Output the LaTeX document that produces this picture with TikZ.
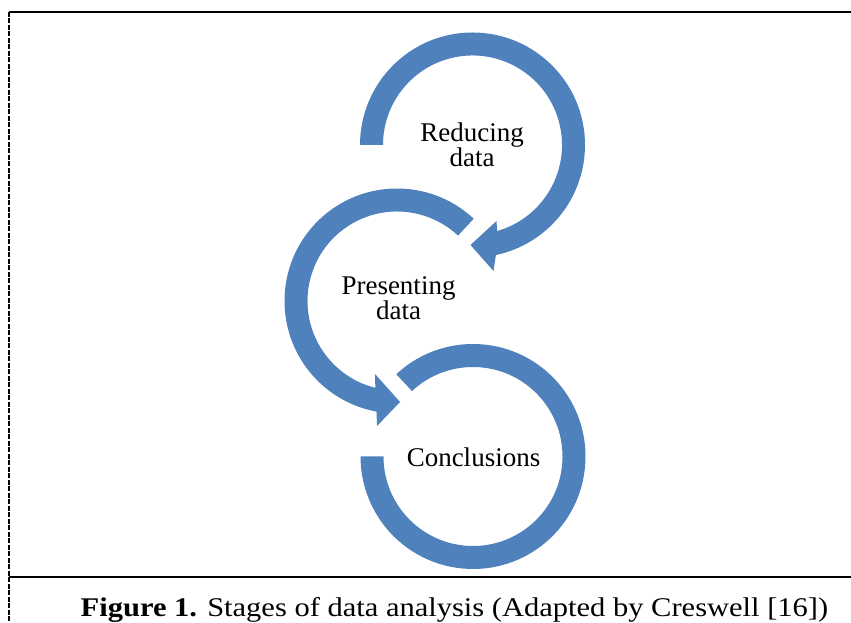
\documentclass[tikz,border=0pt]{standalone}
\usepackage{fontspec}
\setmainfont{Liberation Serif}
\newfontfamily\capfont[FakeStretch=1.13]{Liberation Serif}
\definecolor{sablue}{HTML}{4F81BD}
\begin{document}
\begin{tikzpicture}[x=1pt,y=1pt,
  ring/.style={fill=sablue},
  lbl/.style={font=\fontsize{27}{25}\selectfont, align=center, inner sep=0pt, anchor=base},
  rule/.style={line width=2.5pt},
  dashrule/.style={line width=1.3pt, dash pattern=on 5pt off 1.5pt}]
\useasboundingbox (0,0) rectangle (851,623);
\coordinate (cA) at (472.5,478);
\coordinate (cB) at (397,322);
\coordinate (cC) at (473,166.5);
% top ring with arrow
\fill[ring,shift={(cA)}] (180:112.5) arc[start angle=180,end angle=-78,radius=112.5]
  -- (21,-126) -- (-2,-100) -- (24,-76) -- (-74:89.5)
  arc[start angle=-74,end angle=180,radius=89.5] -- cycle;
% middle ring with arrow
\fill[ring,shift={(cB)}] (47:112.5) arc[start angle=47,end angle=259.5,radius=112.5]
  -- (-20,-125) -- (3,-101) -- (-22,-73) -- (256:89.5)
  arc[start angle=256,end angle=47,radius=89.5] -- cycle;
% bottom ring
\fill[ring,shift={(cC)}] (133:112.5) arc[start angle=133,end angle=-180,radius=112.5]
  -- (-180:89.5) arc[start angle=-180,end angle=133,radius=89.5] -- cycle;
% labels
\node[lbl] (red) at (472,456) {Reducing\\data};
\node[lbl] (pres) at (398.5,303) {Presenting\\data};
\node[lbl] (conc) at (473.5,156) {Conclusions};
% caption
\node[anchor=base, inner sep=0pt, font=\capfont\fontsize{27}{30}\selectfont] (cap) at (454.5,6)
  {\textbf{Figure 1.} Stages of data analysis (Adapted by Creswell [16])};
% border
\coordinate (tl) at (9,611);
\coordinate (tr) at (851,611);
\coordinate (bl) at (9,46);
\coordinate (br) at (851,46);
\coordinate (bot) at (9,0);
\draw[rule] (tl) -- (tr);
\draw[rule] (bl) -- (br);
\draw[dashrule] (tl) -- (bot);
\end{tikzpicture}
\end{document}
